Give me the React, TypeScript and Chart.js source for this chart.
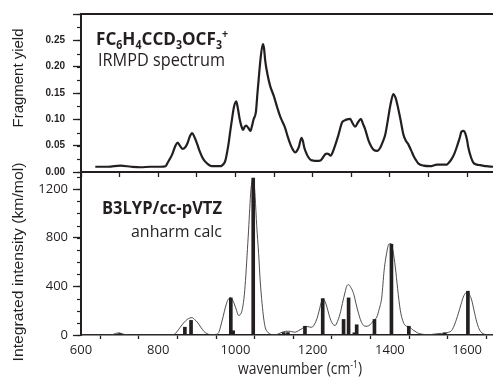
import React, { useEffect, useRef } from 'react';
import { Chart, registerables } from 'chart.js';

Chart.register(...registerables);

// ---------- data ----------
const irmpdWavenumber = [637, 670, 702, 730, 754, 780, 806, 819, 824, 831, 837, 844, 850, 856, 863, 870, 876, 882, 888, 894, 901, 907, 914, 920, 927, 935, 943, 953, 961, 966, 970, 974, 978, 982, 987, 991, 996, 1002, 1006, 1011, 1015, 1020, 1024, 1028, 1033, 1039, 1043, 1047, 1053, 1057, 1060, 1065, 1071, 1074, 1077, 1083, 1090, 1099, 1108, 1116, 1122, 1129, 1135, 1142, 1149, 1155, 1160, 1164, 1171, 1175, 1178, 1184, 1189, 1195, 1199, 1210, 1220, 1227, 1233, 1237, 1241, 1247, 1252, 1258, 1267, 1276, 1283, 1289, 1297, 1303, 1310, 1318, 1325, 1330, 1336, 1345, 1352, 1358, 1367, 1375, 1382, 1388, 1395, 1401, 1409, 1414, 1418, 1427, 1435, 1441, 1448, 1455, 1461, 1468, 1474, 1487, 1504, 1522, 1535, 1547, 1553, 1560, 1567, 1573, 1580, 1586, 1591, 1595, 1600, 1603, 1610, 1616, 1625, 1634, 1650, 1667];
const irmpdYield = [0.010, 0.010, 0.012, 0.010, 0.009, 0.010, 0.010, 0.011, 0.017, 0.026, 0.035, 0.049, 0.056, 0.050, 0.044, 0.047, 0.055, 0.068, 0.074, 0.066, 0.053, 0.040, 0.028, 0.021, 0.016, 0.012, 0.011, 0.011, 0.011, 0.013, 0.016, 0.022, 0.036, 0.053, 0.080, 0.100, 0.123, 0.134, 0.122, 0.100, 0.088, 0.080, 0.086, 0.088, 0.084, 0.078, 0.088, 0.100, 0.114, 0.150, 0.175, 0.215, 0.243, 0.235, 0.212, 0.185, 0.163, 0.145, 0.123, 0.105, 0.095, 0.083, 0.068, 0.053, 0.042, 0.037, 0.041, 0.047, 0.065, 0.058, 0.047, 0.035, 0.028, 0.023, 0.022, 0.021, 0.022, 0.028, 0.034, 0.035, 0.034, 0.031, 0.038, 0.050, 0.071, 0.094, 0.098, 0.100, 0.101, 0.093, 0.086, 0.095, 0.101, 0.092, 0.081, 0.059, 0.048, 0.042, 0.040, 0.046, 0.058, 0.071, 0.100, 0.126, 0.148, 0.142, 0.132, 0.101, 0.071, 0.060, 0.052, 0.041, 0.031, 0.022, 0.016, 0.012, 0.011, 0.014, 0.014, 0.014, 0.018, 0.025, 0.035, 0.047, 0.063, 0.077, 0.078, 0.074, 0.060, 0.047, 0.028, 0.018, 0.014, 0.013, 0.011, 0.010];

const calcWavenumber = [600, 650, 680, 690, 697, 705, 715, 740, 806, 840, 848, 857, 866, 875, 882, 888, 895, 901, 910, 918, 926, 935, 952, 958, 961, 968, 974, 980, 987, 992, 997, 1003, 1008, 1013, 1017, 1022, 1026, 1030, 1034, 1037, 1040, 1043, 1046, 1048, 1051, 1055, 1060, 1064, 1069, 1073, 1077, 1083, 1090, 1096, 1103, 1112, 1121, 1130, 1138, 1146, 1155, 1163, 1172, 1179, 1185, 1192, 1198, 1205, 1211, 1216, 1220, 1224, 1227, 1232, 1237, 1242, 1247, 1252, 1258, 1264, 1271, 1277, 1284, 1288, 1293, 1299, 1306, 1312, 1319, 1325, 1332, 1338, 1345, 1352, 1358, 1366, 1372, 1379, 1385, 1392, 1397, 1403, 1408, 1414, 1420, 1427, 1433, 1440, 1446, 1452, 1458, 1465, 1471, 1478, 1487, 1496, 1509, 1522, 1533, 1543, 1551, 1560, 1568, 1577, 1584, 1590, 1596, 1602, 1607, 1612, 1618, 1625, 1631, 1638, 1645, 1651, 1667];
const calcIntensity = [0, 0, 3, 12, 18, 12, 3, 0, 0, 3, 25, 64, 100, 128, 140, 142, 125, 106, 65, 31, 12, 3, 6, 30, 64, 150, 229, 285, 307, 290, 257, 200, 161, 170, 202, 300, 449, 650, 862, 1040, 1192, 1265, 1290, 1260, 1137, 900, 670, 450, 257, 140, 64, 25, 8, 3, 2, 10, 23, 30, 31, 27, 23, 35, 51, 68, 70, 65, 64, 90, 134, 190, 243, 285, 299, 275, 229, 170, 120, 90, 78, 110, 175, 260, 353, 400, 414, 390, 340, 260, 175, 115, 78, 72, 76, 95, 120, 147, 210, 312, 530, 680, 745, 752, 690, 559, 380, 202, 120, 78, 70, 64, 45, 31, 18, 10, 5, 2, 5, 10, 13, 15, 22, 37, 90, 175, 250, 312, 345, 353, 325, 285, 200, 106, 50, 18, 6, 2, 2];

const stickWavenumber = [700, 869, 885, 988, 994, 1046, 1125, 1136, 1180, 1226, 1280, 1293, 1308, 1314, 1360, 1404, 1449, 1542, 1602];
const stickIntensity = [12, 64, 120, 305, 35, 1290, 20, 20, 72, 299, 128, 305, 18, 84, 128, 746, 72, 18, 360];

// axis ticks
const wavenumberTicks = [600, 700, 800, 900, 1000, 1100, 1200, 1300, 1400, 1500, 1600];
const wavenumberTickLabels = ['600', '', '800', '', '1000', '', '1200', '', '1400', '', '1600'];
const yieldTicks = [0, 0.05, 0.1, 0.15, 0.2, 0.25, 0.3];
const yieldTickLabels = ['0.00', '0.05', '0.10', '0.15', '0.20', '0.25', ''];
const intensityTicks = [0, 400, 800, 1200];
const intensityTickLabels = ['0', '400', '800', '1200'];

const X_MIN = 600;
const X_MAX = 1667;
const INK = '#231f20';
const SANS = '"Open Sans", "Liberation Sans", sans-serif';
const ARIAL = '"Liberation Sans", Arial, sans-serif';

type Part = { t: string; sub?: boolean; sup?: boolean };
type TextItem = {
  parts: Part[];
  x: number;
  y: number;
  size: number;
  weight?: string;
  family?: string;
  width?: number;
  align?: 'left' | 'center' | 'right';
  rotate?: boolean;
};

function drawRich(ctx: CanvasRenderingContext2D, item: TextItem) {
  const weight = item.weight || 'normal';
  const family = item.family || SANS;
  const segs = item.parts.map((p) => {
    const s = p.sub || p.sup ? item.size * 0.62 : item.size;
    ctx.font = `${weight} ${s}px ${family}`;
    return { ...p, s, w: ctx.measureText(p.t).width };
  });
  const total = segs.reduce((a, b) => a + b.w, 0);
  const sx = item.width ? item.width / total : 1;
  const drawn = total * sx;
  ctx.save();
  ctx.translate(item.x, item.y);
  if (item.rotate) ctx.rotate(-Math.PI / 2);
  let start = 0;
  if (item.align === 'center') start = -drawn / 2;
  else if (item.align === 'right') start = -drawn;
  ctx.translate(start, 0);
  ctx.scale(sx, 1);
  ctx.fillStyle = INK;
  ctx.textBaseline = item.rotate ? 'middle' : 'alphabetic';
  let cx = 0;
  for (const sg of segs) {
    ctx.font = `${weight} ${sg.s}px ${family}`;
    const dy = sg.sub ? item.size * 0.2 : sg.sup ? -item.size * 0.36 : 0;
    ctx.fillText(sg.t, cx, dy);
    cx += sg.w;
  }
  ctx.restore();
}

const textPlugin = {
  id: 'freeText',
  afterDraw(chart: any, _args: any, opts: any) {
    const ctx = chart.ctx as CanvasRenderingContext2D;
    (opts.items || []).forEach((it: TextItem) => drawRich(ctx, it));
  },
};

const minorTickPlugin = {
  id: 'minorTicks',
  afterDraw(chart: any, _args: any, opts: any) {
    const y = chart.scales.y;
    const ctx = chart.ctx as CanvasRenderingContext2D;
    ctx.save();
    ctx.strokeStyle = INK;
    ctx.lineWidth = 1.2;
    const n = Math.round((y.max - y.min) / opts.step);
    for (let i = 0; i <= n; i++) {
      const v = y.min + i * opts.step;
      if (v > y.max + 1e-9) break;
      const p = Math.round(y.getPixelForValue(v)) + 0.5;
      ctx.beginPath();
      ctx.moveTo(y.right - opts.length, p);
      ctx.lineTo(y.right, p);
      ctx.stroke();
    }
    ctx.restore();
  },
};

function fixedTicks(values: number[]) {
  return (s: any) => { s.ticks = values.map((v) => ({ value: v })); };
}
function labelFor(values: number[], labels: string[]) {
  return (v: any) => {
    const i = values.findIndex((t) => Math.abs(t - Number(v)) < 1e-6);
    return i >= 0 ? labels[i] : '';
  };
}

// a top axis used only as a spacer (and, for the upper panel, the frame line)
function spacerAxis(height: number, showBorder: boolean) {
  return {
    type: 'linear',
    position: 'top',
    display: true,
    min: X_MIN,
    max: X_MAX,
    bounds: 'data',
    ticks: { display: false },
    grid: { display: false, drawTicks: false },
    border: { display: showBorder, color: INK, width: 2 },
    afterFit: (s: any) => { s.height = height; },
  };
}

export default function App() {
  const topRef = useRef<HTMLCanvasElement>(null);
  const botRef = useRef<HTMLCanvasElement>(null);

  useEffect(() => {
    const topChart = new Chart(topRef.current as HTMLCanvasElement, {
      type: 'line',
      data: {
        datasets: [
          {
            data: irmpdWavenumber.map((w, i) => ({ x: w, y: irmpdYield[i] })),
            borderColor: INK,
            borderWidth: 2.2,
            pointRadius: 0,
            cubicInterpolationMode: 'monotone',
            fill: false,
            xAxisID: 'x',
          },
        ],
      },
      options: {
        responsive: false,
        animation: false,
        events: [],
        layout: { padding: 0 },
        plugins: {
          legend: { display: false },
          tooltip: { enabled: false },
          minorTicks: { step: 0.025, length: 4 },
          freeText: {
            items: [
              {
                parts: [
                  { t: 'FC' }, { t: '6', sub: true }, { t: 'H' }, { t: '4', sub: true },
                  { t: 'CCD' }, { t: '3', sub: true }, { t: 'OCF' }, { t: '3', sub: true }, { t: '+', sup: true },
                ],
                x: 96, y: 45, size: 18.5, weight: 'bold', width: 132,
              },
              { parts: [{ t: 'IRMPD spectrum' }], x: 98, y: 66, size: 18, width: 127 },
              { parts: [{ t: 'Fragment yield' }], x: 19, y: 78, size: 15, family: ARIAL, width: 99, align: 'center', rotate: true },
            ],
          },
        } as any,
        scales: {
          x: {
            type: 'linear',
            min: X_MIN,
            max: X_MAX,
            bounds: 'data',
            offset: false,
            afterBuildTicks: fixedTicks(wavenumberTicks),
            ticks: { autoSkip: false, maxRotation: 0, callback: () => '' },
            grid: { drawOnChartArea: false, tickLength: 5, tickColor: INK, tickWidth: 1.3 },
            border: { color: INK, width: 2 },
            afterFit: (s: any) => { s.height = 208; },
          },
          x2: spacerAxis(10, true),
          y: {
            min: 0,
            max: 0.3,
            bounds: 'data',
            afterBuildTicks: fixedTicks(yieldTicks),
            ticks: {
              padding: 8,
              color: INK,
              font: { family: ARIAL, size: 10, weight: 'bold' },
              callback: labelFor(yieldTicks, yieldTickLabels),
            },
            grid: { drawOnChartArea: false, tickLength: 8, tickColor: INK, tickWidth: 1.3 },
            border: { color: INK, width: 2 },
            afterFit: (s: any) => { s.width = 81; },
          },
        },
      } as any,
      plugins: [minorTickPlugin, textPlugin],
    });

    const botChart = new Chart(botRef.current as HTMLCanvasElement, {
      type: 'bar',
      data: {
        datasets: [
          {
            type: 'line',
            data: calcWavenumber.map((w, i) => ({ x: w, y: calcIntensity[i] })),
            borderColor: '#3a3a3a',
            borderWidth: 0.9,
            pointRadius: 0,
            cubicInterpolationMode: 'monotone',
            fill: false,
            xAxisID: 'x',
            order: 2,
          } as any,
          {
            type: 'bar',
            data: stickWavenumber.map((w, i) => ({ x: w, y: stickIntensity[i] })),
            backgroundColor: INK,
            borderWidth: 0,
            barThickness: 3,
            grouped: false,
            xAxisID: 'x',
            order: 1,
          } as any,
        ],
      },
      options: {
        responsive: false,
        animation: false,
        events: [],
        layout: { padding: 0 },
        plugins: {
          legend: { display: false },
          tooltip: { enabled: false },
          minorTicks: { step: 100, length: 4 },
          freeText: {
            items: [
              { parts: [{ t: 'B3LYP/cc-pVTZ' }], x: 102, y: 214, size: 17, weight: 'bold', width: 120 },
              { parts: [{ t: 'anharm calc' }], x: 222, y: 237, size: 17, width: 91, align: 'right' },
              { parts: [{ t: 'Integrated intensity (km/mol)' }], x: 19, y: 262, size: 15.5, family: ARIAL, width: 199, align: 'center', rotate: true },
              { parts: [{ t: 'wavenumber (cm' }, { t: '-1', sup: true }, { t: ')' }], x: 300, y: 374, size: 16, width: 124, align: 'center' },
            ],
          },
        } as any,
        scales: {
          x: {
            type: 'linear',
            min: X_MIN,
            max: X_MAX,
            bounds: 'data',
            offset: false,
            afterBuildTicks: fixedTicks(wavenumberTicks),
            ticks: {
              autoSkip: false,
              maxRotation: 0,
              padding: 3,
              color: INK,
              font: { family: SANS, size: 13 },
              callback: labelFor(wavenumberTicks, wavenumberTickLabels),
            },
            grid: { drawOnChartArea: false, tickLength: 4, tickColor: INK, tickWidth: 1.3 },
            border: { color: INK, width: 1.6 },
            afterFit: (s: any) => { s.height = 45; },
          },
          x2: spacerAxis(172, false),
          y: {
            min: 0,
            max: 1340,
            bounds: 'data',
            afterBuildTicks: fixedTicks(intensityTicks),
            ticks: {
              padding: 5,
              color: INK,
              font: { family: SANS, size: 13 },
              callback: labelFor(intensityTicks, intensityTickLabels),
            },
            grid: { drawOnChartArea: false, tickLength: 8, tickColor: INK, tickWidth: 1.3 },
            border: { color: INK, width: 2 },
            afterFit: (s: any) => { s.width = 81; },
          },
        },
      } as any,
      plugins: [minorTickPlugin, textPlugin],
    });

    return () => {
      topChart.destroy();
      botChart.destroy();
    };
  }, []);

  const canvasStyle: React.CSSProperties = { position: 'absolute', left: 0, top: 0, width: 493, height: 380 };
  return (
    <div style={{ position: 'fixed', left: 0, top: 0, width: 493, height: 380, background: '#fff', overflow: 'hidden' }}>
      <canvas ref={botRef} width={493} height={380} style={canvasStyle} />
      <canvas ref={topRef} width={493} height={380} style={canvasStyle} />
    </div>
  );
}
